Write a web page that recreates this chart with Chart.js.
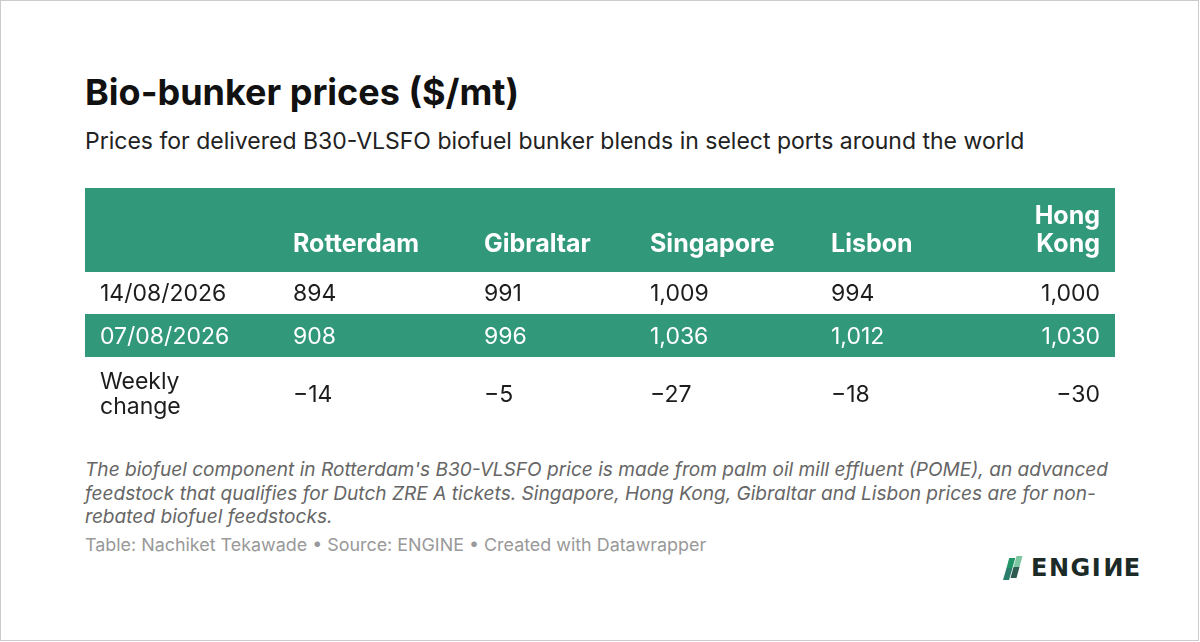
<!DOCTYPE html>
<html>
<head>
<meta charset="utf-8">
<script src="https://cdn.jsdelivr.net/npm/chart.js@4.4.1/dist/chart.umd.min.js"></script>
<style>
  html, body { margin: 0; padding: 0; background: #fff; }
  body { width: 1200px; height: 642px; position: relative; overflow: hidden; font-family: Inter, Roboto, sans-serif; }
  .frame { position: absolute; left: 0; top: 0; width: 1199px; height: 641px; box-sizing: border-box; border: 1px solid #cccccc; }
  .title { position: absolute; left: 85px; top: 74px; margin: 0; font: 700 36px/36px Inter, sans-serif; color: #111; }
  .subtitle { position: absolute; left: 85px; top: 130px; margin: 0; font: 400 23px/23px Inter, sans-serif; color: #222; }
  .table-wrap { position: absolute; left: 85px; top: 188px; width: 1030px; height: 242px; }
  .notes { position: absolute; left: 85px; top: 458px; width: 1040px; margin: 0; font: italic 400 19.1px/23.5px Inter, sans-serif; color: #666; }
  .source { position: absolute; left: 85px; top: 535px; margin: 0; font: 400 17.9px/20px Inter, sans-serif; color: #999; }
  .logo { position: absolute; left: 1001px; top: 555px; height: 26px; display: flex; align-items: center; }
  .logo span.word { font: 700 24px/24px "DejaVu Sans", sans-serif; letter-spacing: 1.5px; color: #1c2b28; margin-left: 4px; }
  .logo span.mirror { display: inline-block; transform: scaleX(-1); }
</style>
</head>
<body>
<div class="frame"></div>
<h1 class="title">Bio-bunker prices ($/mt)</h1>
<p class="subtitle">Prices for delivered B30-VLSFO biofuel bunker blends in select ports around the world</p>
<div class="table-wrap"><canvas id="chart"></canvas></div>
<p class="notes">The biofuel component in Rotterdam's B30-VLSFO price is made from palm oil mill effluent (POME), an advanced<br>feedstock that qualifies for Dutch ZRE A tickets. Singapore, Hong Kong, Gibraltar and Lisbon prices are for non-<br>rebated biofuel feedstocks.</p>
<p class="source">Table: Nachiket Tekawade • Source: ENGINE • Created with Datawrapper</p>
<div class="logo">
  <svg width="26" height="26" viewBox="0 0 26 26">
    <polygon points="2,25 8,25 11.5,13 5.5,13" fill="#2b7d6b"/>
    <polygon points="5.5,13 11.5,13 14.2,3 8.2,3" fill="#1f9468"/>
    <polygon points="12.5,12 18.5,12 21.5,1 15.5,1" fill="#7dc6a2"/>
    <polygon points="9.5,23 15.5,23 18.5,12 12.5,12" fill="#2e5b52"/>
  </svg>
  <span class="word">ENGI<span class="mirror">N</span>E</span>
</div>

<script>
const ports = ['Rotterdam', 'Gibraltar', 'Singapore', 'Lisbon', 'Hong Kong'];
const rowLabels = ['14/08/2026', '07/08/2026', 'Weekly change'];
const priceThisWeek = [894, 991, 1009, 994, 1000];
const priceLastWeek = [908, 996, 1036, 1012, 1030];
const weeklyChange = [-14, -5, -27, -18, -30];

// table layout (scale units = px of the table box)
const colWidths = [193, 191, 166, 181, 169, 130];
const rowHeights = [84, 42, 43, 73];
const greenRows = [0, 2];
const PAD = 15;
const WRAP = 110;
const GREEN = '#31987a';
const FONT = 'Inter';
const HEAD_SIZE = 25;
const SIZE = 23;

const sum = a => a.reduce((s, v) => s + v, 0);
const edge = (a, i) => sum(a.slice(0, i));
const tableW = sum(colWidths);
const tableH = sum(rowHeights);

// left edge of text in a column, last column is right aligned
const colAnchor = c => c === colWidths.length - 1 ? tableW - PAD : edge(colWidths, c) + PAD;
const rowMid = r => edge(rowHeights, r) + rowHeights[r] / 2;
const fmt = v => (v < 0 ? '\u2212' : '') + Math.abs(v).toLocaleString('en-US');

function wrap(ctx, text, maxW) {
  const lines = [];
  let cur = '';
  text.split(' ').forEach(w => {
    const t = cur ? cur + ' ' + w : w;
    if (cur && ctx.measureText(t).width > maxW) { lines.push(cur); cur = w; }
    else cur = t;
  });
  lines.push(cur);
  return lines;
}

// draws lines centred on y (or with the bottom line centred on y)
function drawLines(ctx, lines, x, y, lh, size, bottom) {
  const cap = size * 0.727;
  const first = bottom ? y - (lines.length - 1) * lh : y - (lines.length - 1) * lh / 2;
  lines.forEach((l, i) => ctx.fillText(l, x, first + i * lh + cap / 2));
}

const tablePlugin = {
  id: 'table',
  beforeDatasetsDraw(chart) {
    const { ctx, scales: { x, y } } = chart;
    ctx.save();
    ctx.fillStyle = GREEN;
    greenRows.forEach(r => {
      const top = y.getPixelForValue(edge(rowHeights, r));
      const bot = y.getPixelForValue(edge(rowHeights, r + 1));
      const left = x.getPixelForValue(0);
      ctx.fillRect(left, top, x.getPixelForValue(tableW) - left, bot - top);
    });
    ctx.restore();
  },
  afterDatasetsDraw(chart) {
    const { ctx, scales: { x, y } } = chart;
    ctx.save();
    ctx.textBaseline = 'alphabetic';

    // header row
    ctx.font = `700 ${HEAD_SIZE}px ${FONT}`;
    ctx.fillStyle = '#fff';
    const headBottom = y.getPixelForValue(rowHeights[0]) - 29;
    ports.forEach((p, i) => {
      ctx.textAlign = i === ports.length - 1 ? 'right' : 'left';
      drawLines(ctx, wrap(ctx, p, WRAP), x.getPixelForValue(colAnchor(i + 1)), headBottom, 28, HEAD_SIZE, true);
    });

    // row labels and cells
    ctx.font = `400 ${SIZE}px ${FONT}`;
    chart.data.datasets.forEach((ds, r) => {
      ctx.fillStyle = greenRows.includes(r + 1) ? '#fff' : '#1d1d1d';
      ctx.textAlign = 'left';
      drawLines(ctx, wrap(ctx, ds.label, WRAP), x.getPixelForValue(colAnchor(0)), y.getPixelForValue(rowMid(r + 1)), 25, SIZE, false);
      chart.getDatasetMeta(r).data.forEach((pt, i) => {
        ctx.textAlign = i === ports.length - 1 ? 'right' : 'left';
        drawLines(ctx, [fmt(ds.data[i].v)], pt.x, pt.y, 25, SIZE, false);
      });
    });
    ctx.restore();
  }
};

function draw() {
  const rows = [priceThisWeek, priceLastWeek, weeklyChange];
  new Chart(document.getElementById('chart'), {
    type: 'scatter',
    data: {
      datasets: rows.map((vals, r) => ({
        label: rowLabels[r],
        data: vals.map((v, i) => ({ x: colAnchor(i + 1), y: rowMid(r + 1), v })),
        pointRadius: 0,
        pointHoverRadius: 0
      }))
    },
    options: {
      responsive: true,
      maintainAspectRatio: false,
      animation: false,
      events: [],
      layout: { padding: 0 },
      plugins: { legend: { display: false }, tooltip: { enabled: false } },
      scales: {
        x: { type: 'linear', display: false, min: 0, max: tableW },
        y: { type: 'linear', display: false, min: 0, max: tableH, reverse: true }
      }
    },
    plugins: [tablePlugin]
  });
}

document.fonts.load(`700 ${HEAD_SIZE}px ${FONT}`).then(() => document.fonts.load(`400 ${SIZE}px ${FONT}`)).then(draw, draw);
</script>
</body>
</html>
